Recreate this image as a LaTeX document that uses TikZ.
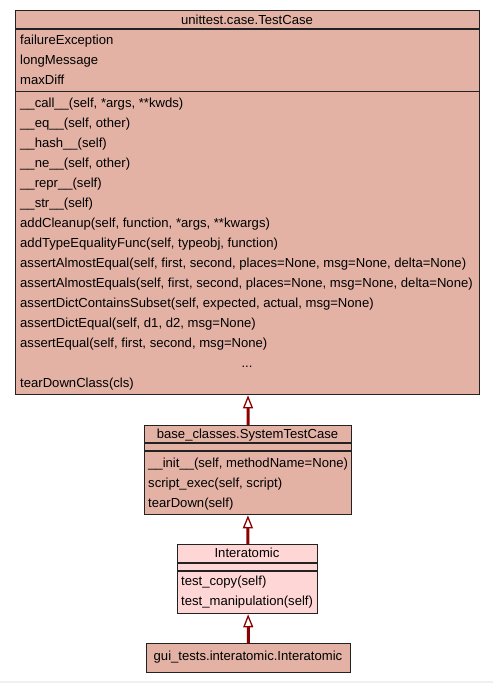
\documentclass[tikz,border=0pt]{standalone}
\usepackage{fontspec}
\setmainfont{Liberation Sans}
\usepackage{tikz}
\usetikzlibrary{arrows.meta,positioning}
\usepackage{xcolor}
\definecolor{umlsalmon}{RGB}{227,178,165}
\definecolor{umlpink}{RGB}{255,214,214}
\definecolor{umlred}{RGB}{139,0,0}
\definecolor{umledge}{RGB}{34,34,34}
\tikzstyle{inherit} = [line width=3pt, -{Triangle[open, length=13pt, width=10pt, line width=1.3pt, fill=white]}, color=umlred]
\tikzstyle{classbox} = [rectangle, anchor=north west, inner sep=0pt, draw=umledge, fill=umlsalmon, line width=1.3pt]
\tikzstyle{sepline} = [draw=umledge, line width=1.3pt]
\tikzstyle{member} = [anchor=base west, inner sep=0pt, font=\fontsize{13.1pt}{15pt}\selectfont]
\tikzstyle{classname} = [anchor=base, inner sep=0pt, font=\fontsize{13.1pt}{15pt}\selectfont]

\begin{document}
\begin{tikzpicture}[x=1pt, y=-1pt]
\useasboundingbox (0,0) rectangle (493,683);
\fill[gray!12] (0,681) rectangle (493,683);

% unittest.case.TestCase
\node (testcase) [classbox, minimum width=464pt, minimum height=384pt] at (15,10) {};
\node (tcname) [classname] at (247,24) {unittest.case.TestCase};
\draw[sepline] (15,29) -- (479,29);
\draw[sepline] (15,91.5) -- (479,91.5);
\foreach \a [count=\i] in {failureException, longMessage, maxDiff}
  \node (tcattr\i) [member] at (20,24.5+20*\i) {\a};
\foreach \m [count=\i] in {
  {\_\_call\_\_(self, *args, **kwds)},
  {\_\_eq\_\_(self, other)},
  {\_\_hash\_\_(self)},
  {\_\_ne\_\_(self, other)},
  {\_\_repr\_\_(self)},
  {\_\_str\_\_(self)},
  {addCleanup(self, function, *args, **kwargs)},
  {addTypeEqualityFunc(self, typeobj, function)},
  {assertAlmostEqual(self, first, second, places=None, msg=None, delta=None)},
  {assertAlmostEquals(self, first, second, places=None, msg=None, delta=None)},
  {assertDictContainsSubset(self, expected, actual, msg=None)},
  {assertDictEqual(self, d1, d2, msg=None)},
  {assertEqual(self, first, second, msg=None)}}
  \node (tcop\i) [member] at (20,87+20*\i) {\m};
\node (tcmore) [classname] at (247,367) {...};
\node (tclast) [member] at (20,387) {tearDownClass(cls)};

% base_classes.SystemTestCase
\node (systest) [classbox, minimum width=207pt, minimum height=89pt] at (144,425) {};
\node (stname) [classname] at (247.5,438.5) {base\_classes.SystemTestCase};
\draw[sepline] (144,443) -- (351,443);
\draw[sepline] (144,451) -- (351,451);
\foreach \m [count=\i] in {
  {\_\_init\_\_(self, methodName=None)},
  {script\_exec(self, script)},
  {tearDown(self)}}
  \node (stop\i) [member] at (148,447.3+20*\i) {\m};

% Interatomic
\node (inter) [classbox, fill=umlpink, minimum width=140pt, minimum height=69pt] at (177,544) {};
\node (iname) [classname] at (247,557.5) {Interatomic};
\draw[sepline] (177,563) -- (317,563);
\draw[sepline] (177,571) -- (317,571);
\foreach \m [count=\i] in {
  {test\_copy(self)},
  {test\_manipulation(self)}}
  \node (iop\i) [member] at (181,565.5+20*\i) {\m};

% gui_tests.interatomic.Interatomic
\node (gui) [classbox, minimum width=204pt, minimum height=29pt] at (146,643) {};
\node (guiname) [classname] at (248,660.7) {gui\_tests.interatomic.Interatomic};

% Inheritance
\draw[inherit] (systest) -- (testcase);
\draw[inherit] (inter) -- (systest);
\draw[inherit] (gui) -- (inter);
\end{tikzpicture}
\end{document}
